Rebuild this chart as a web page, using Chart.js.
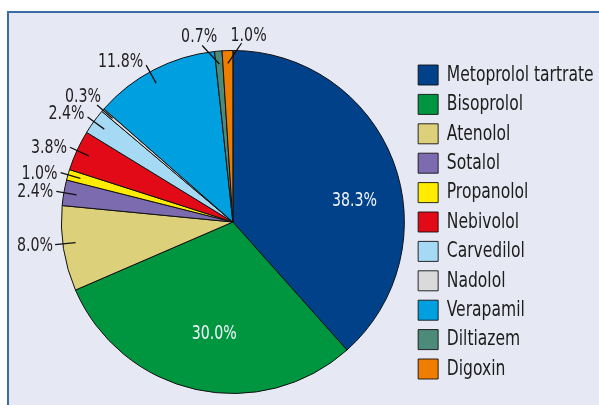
<!DOCTYPE html>
<html>
<head>
<meta charset="utf-8">
<script src="https://cdn.jsdelivr.net/npm/chart.js@4.4.0/dist/chart.umd.min.js"></script>
<style>
  html, body { margin: 0; padding: 0; background: #fff; }
  #wrap { position: relative; width: 599px; height: 405px; overflow: hidden; }
  .panel {
    position: absolute; left: 7px; top: 11px; width: 592px; height: 394px;
    background: #e6e8f4; border-top: 2px solid #3d6ba6; border-left: 2px solid #3d6ba6;
    box-sizing: border-box;
  }
  canvas { position: absolute; left: 0; top: 0; }
</style>
</head>
<body>
<div id="wrap">
  <div class="panel"></div>
  <canvas id="myChart" width="599" height="405"></canvas>
</div>
<script>
const drugs = ['Metoprolol tartrate', 'Bisoprolol', 'Atenolol', 'Sotalol', 'Propanolol',
  'Nebivolol', 'Carvedilol', 'Nadolol', 'Verapamil', 'Diltiazem', 'Digoxin'];
const shares = [38.3, 30.0, 8.0, 2.4, 1.0, 3.8, 2.4, 0.3, 11.8, 0.7, 1.0];
const sliceColors = ['#00418a', '#009640', '#dcd07b', '#7d6bb0', '#ffec00',
  '#e20a17', '#a6daf4', '#dadada', '#009fe0', '#4c8a7a', '#ee7d00'];

// no narrow Helvetica here, so condensed DejaVu squeezed a bit more
const fontFam = "'DejaVu Sans Condensed', 'DejaVu Sans', sans-serif";
const legendSqueeze = 0.786;
const labelSqueeze = 0.83;

// squeeze the legend horizontally (legend is drawn before the datasets)
const squeezeLegend = {
  id: 'squeezeLegend',
  beforeDraw(chart) {
    const lg = chart.legend;
    const ox = lg.left + lg.options.labels.padding;
    chart.ctx.save();
    chart.ctx.translate(ox, 0);
    chart.ctx.scale(legendSqueeze, 1);
    chart.ctx.translate(-ox, 0);
  },
  beforeDatasetsDraw(chart) {
    chart.ctx.restore();
  }
};

function squeezedText(ctx, text, x, y, align, baseline) {
  ctx.save();
  ctx.translate(x, y);
  ctx.scale(labelSqueeze, 1);
  ctx.textAlign = align;
  ctx.textBaseline = baseline;
  ctx.fillText(text, 0, 0);
  ctx.restore();
}

// percentage labels: white ones inside the two big slices, leader lines for the rest
const pctLabels = {
  id: 'pctLabels',
  afterDatasetsDraw(chart, args, opts) {
    const ctx = chart.ctx;
    const arcs = chart.getDatasetMeta(0).data;
    const rad = Math.PI / 180;
    ctx.save();
    ctx.font = '19px ' + fontFam;
    arcs.forEach((arc, i) => {
      const p = arc.getProps(['x', 'y', 'startAngle', 'endAngle', 'outerRadius'], true);
      const mid = (p.startAngle + p.endAngle) / 2;
      const text = shares[i].toFixed(1) + '%';
      if (opts.inside[i]) {
        const a = mid + opts.inside[i][0] * rad;
        const r = p.outerRadius * opts.inside[i][1];
        ctx.fillStyle = '#f0f3fa';
        squeezedText(ctx, text, p.x + Math.cos(a) * r, p.y + Math.sin(a) * r, 'center', 'middle');
        return;
      }
      const a1 = mid + (opts.bend[i] ? opts.bend[i][0] : 0) * rad;
      const a2 = mid + (opts.bend[i] ? opts.bend[i][1] : 0) * rad;
      const x1 = p.x + Math.cos(a1) * p.outerRadius * 0.925;
      const y1 = p.y + Math.sin(a1) * p.outerRadius * 0.925;
      const x2 = p.x + Math.cos(a2) * p.outerRadius * 1.045;
      const y2 = p.y + Math.sin(a2) * p.outerRadius * 1.045;
      ctx.strokeStyle = '#111';
      ctx.lineWidth = 1.3;
      ctx.beginPath();
      ctx.moveTo(x1, y1);
      ctx.lineTo(x2, y2);
      ctx.stroke();

      const fromTop = ((a2 / rad + 90) % 360 + 360) % 360;
      const nudge = opts.nudge[i] || [0, 0];
      ctx.fillStyle = '#231f20';
      if (fromTop > 340 || fromTop < 20) {
        squeezedText(ctx, text, x2 + (fromTop < 20 ? 7 : -3) + nudge[0], y2 + 1 + nudge[1], 'center', 'bottom');
      } else {
        squeezedText(ctx, text, x2 - 3 + nudge[0], y2 + 1 + nudge[1], 'right', 'middle');
      }
    });
    ctx.restore();
  }
};

const ctx = document.getElementById('myChart');
const myChart = new Chart(ctx, {
  type: 'pie',
  data: {
    labels: drugs,
    datasets: [{
      data: shares,
      backgroundColor: sliceColors,
      borderColor: '#111',
      borderWidth: 1
    }]
  },
  options: {
    responsive: false,
    animation: false,
    // right padding is negative: the legend is measured unsqueezed
    layout: { padding: { left: 55, top: 50, right: -52.4, bottom: 11 } },
    plugins: {
      tooltip: { enabled: false },
      legend: {
        position: 'right',
        labels: {
          boxWidth: 20 / legendSqueeze,
          boxHeight: 20,
          padding: 7.4,
          color: '#1d1d1b',
          font: { family: fontFam, size: 22 }
        }
      },
      pctLabels: {
        inside: { 0: [11, 0.72], 1: [-3, 0.66] },
        bend: { 2: [1.5, 1.7], 8: [-1.5, -1.5], 9: [0, -5], 10: [0, 4.6] },
        nudge: { 2: [1, 0], 8: [0, -4], 10: [0, 2], 6: [0, -4], 7: [7, -9] }
      }
    }
  },
  plugins: [squeezeLegend, pctLabels]
});
</script>
</body>
</html>
